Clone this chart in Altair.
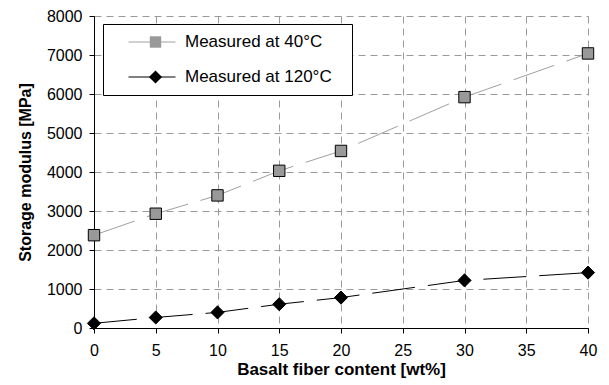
import altair as alt
import pandas as pd

fiber = [0, 5, 10, 15, 20, 30, 40]
mod_40 = [2380, 2930, 3400, 4030, 4540, 5920, 7040]
mod_120 = [120, 270, 400, 610, 780, 1220, 1420]
series_names = ["Measured at 40°C", "Measured at 120°C"]
marker_keys = ["m40", "m120"]
x_ticks = [0, 5, 10, 15, 20, 25, 30, 35, 40]
y_ticks = [0, 1000, 2000, 3000, 4000, 5000, 6000, 7000, 8000]

rows = []
for name, key, vals in zip(series_names, marker_keys, [mod_40, mod_120]):
    for xv, yv in zip(fiber, vals):
        rows.append({"fiber": xv, "modulus": yv, "series": name, "series_m": key})
df = pd.DataFrame(rows)

FONT = "Liberation Sans"

x = alt.X("fiber:Q", scale=alt.Scale(domain=[0, 40], nice=False),
          axis=alt.Axis(values=x_ticks, title="Basalt fiber content [wt%]"))
y = alt.Y("modulus:Q", scale=alt.Scale(domain=[0, 8000], nice=False),
          axis=alt.Axis(values=y_ticks, format="d", title="Storage modulus [MPa]"))

lines = alt.Chart(df).mark_line(strokeWidth=1, strokeDash=[43, 13]).encode(
    x=x, y=y,
    color=alt.Color("series:N",
                    scale=alt.Scale(domain=series_names, range=["#a0a0a0", "#000000"]),
                    legend=alt.Legend(
                        orient="none", legendX=9, legendY=8, title=None,
                        symbolType="stroke", symbolSize=2209, symbolStrokeWidth=1,
                        symbolOffset=17, labelOffset=9, labelLimit=300,
                        labelFontSize=17, labelFont=FONT, labelColor="#000",
                        labelExpr="datum.label + '\u2800'",
                        clipHeight=20, rowPadding=15, padding=8,
                        strokeColor="#000", fillColor="#fff")),
    order="fiber:Q",
)

marker_legend = alt.Legend(
    orient="none", legendX=9, legendY=8, title=None,
    symbolOffset=36, labelExpr="''", labelFontSize=17,
    symbolStrokeColor="#000", symbolStrokeWidth=1, symbolSize=130,
    clipHeight=20, rowPadding=15, padding=8)

points = alt.Chart(df).mark_point(filled=True, stroke="black", strokeWidth=1,
                                  size=130, opacity=1).encode(
    x=x, y=y,
    fill=alt.Fill("series_m:N",
                  scale=alt.Scale(domain=marker_keys, range=["#999999", "#000000"]),
                  legend=marker_legend),
    shape=alt.Shape("series_m:N",
                    scale=alt.Scale(domain=marker_keys,
                                    range=["square", "M0,-1.15L1.15,0L0,1.15L-1.15,0Z"]),
                    legend=marker_legend),
)

chart = alt.layer(lines, points).resolve_legend(color="independent", fill="independent", shape="independent").properties(
    width=494, height=312,
    autosize=alt.AutoSizeParams(type="none"),
    padding={"left": 86, "top": 8, "right": 13, "bottom": 56},
).configure_view(stroke=None).configure_axis(
    labelFont=FONT, labelFontSize=16, labelColor="#000", labelFlush=False,
    titleFont=FONT, titleFontWeight="bold", titleColor="#000",
    domainColor="#000", domainWidth=1,
    tickColor="#000", tickSize=5,
    gridColor="#9a9a9a", gridDash=[7, 5], gridWidth=1,
).configure_axisX(labelPadding=9, titlePadding=3, titleFontSize=17).configure_axisY(
    labelPadding=7, titlePadding=13, titleFontSize=16)

chart.save("out.html", embed_options={"renderer": "svg", "actions": False})
